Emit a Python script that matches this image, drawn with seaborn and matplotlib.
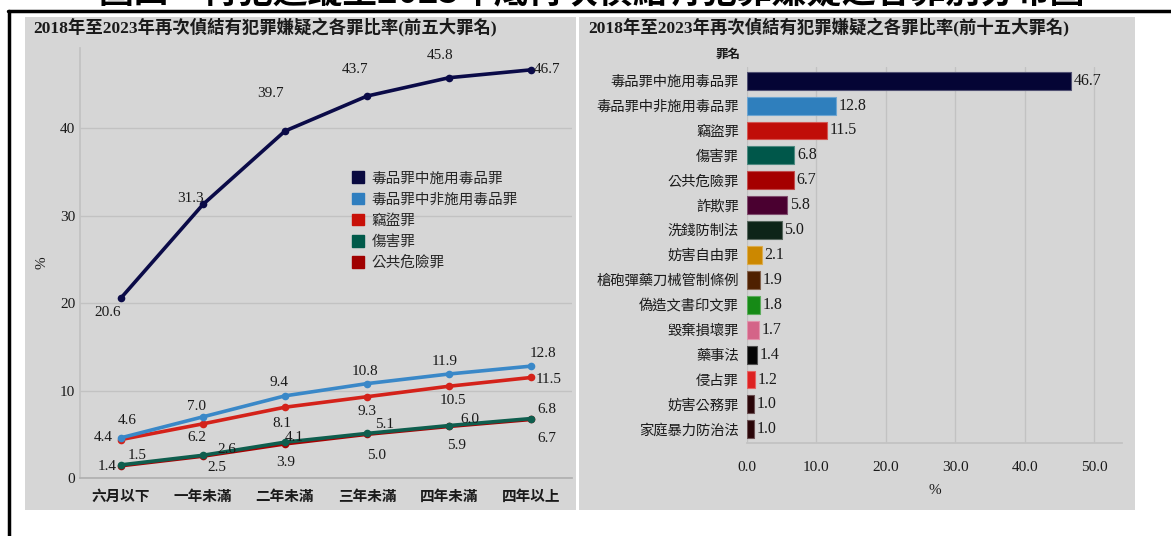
import matplotlib
matplotlib.use('Agg')
import matplotlib.pyplot as plt
import seaborn as sns
import pandas as pd
from matplotlib.lines import Line2D
from matplotlib.patches import Rectangle, Patch
from matplotlib.colors import to_rgb

# ---------------- data ----------------
periods = ['六月以下', '一年未滿', '二年未滿', '三年未滿', '四年未滿', '四年以上']
top5_names = ['毒品罪中施用毒品罪', '毒品罪中非施用毒品罪', '竊盜罪', '傷害罪', '公共危險罪']
drug_use = [20.6, 31.3, 39.7, 43.7, 45.8, 46.7]
drug_other = [4.6, 7.0, 9.4, 10.8, 11.9, 12.8]
theft = [4.4, 6.2, 8.1, 9.3, 10.5, 11.5]
injury = [1.5, 2.6, 4.1, 5.1, 6.0, 6.8]
public_danger = [1.4, 2.5, 3.9, 5.0, 5.9, 6.7]

crime_names = ['毒品罪中施用毒品罪', '毒品罪中非施用毒品罪', '竊盜罪', '傷害罪', '公共危險罪',
               '詐欺罪', '洗錢防制法', '妨害自由罪', '槍砲彈藥刀械管制條例', '偽造文書印文罪',
               '毀棄損壞罪', '藥事法', '侵占罪', '妨害公務罪', '家庭暴力防治法']
crime_rates = [46.7, 12.8, 11.5, 6.8, 6.7, 5.8, 5.0, 2.1, 1.9, 1.8, 1.7, 1.4, 1.2, 1.0, 1.0]

title_main = '圖四　再犯追蹤至2023年底再次偵結有犯罪嫌疑之各罪別分布圖'
title_left = '2018年至2023年再次偵結有犯罪嫌疑之各罪比率(前五大罪名)'
title_right = '2018年至2023年再次偵結有犯罪嫌疑之各罪比率(前十五大罪名)'

# ---------------- styles ----------------
line_colors = ['#0b0b48', '#3a88c8', '#d4221a', '#0f5e4e', '#a60000']
legend_colors = ['#0a0a40', '#2f7ebf', '#c81008', '#005a4a', '#a00000']
bar_colors = ['#050535', '#2f7fbd', '#c00d08', '#00574a', '#a50000', '#4a0030', '#0d2418',
              '#cc8800', '#4f2000', '#168a16', '#d46488', '#050505', '#dd2222', '#2a0508', '#2a0508']
# label offsets (pixels) per series, per point
label_offsets = [
    [(-13, -15), (-13, 6), (-15, 38), (-12, 27), (-9, 22), (16, 0)],
    [(6, 17), (-6, 10), (-6, 13), (-2, 12), (-4, 12), (12, 13)],
    [(-18, 2), (-6, -14), (-3, -16), (0, -15), (4, -14), (18, -2)],
    [(16, 9), (24, 6), (9, 5), (18, 9), (21, 6), (16, 9)],
    [(-14, -1), (14, -11), (1, -19), (10, -21), (8, -19), (16, -19)],
]
PANEL = '#d6d6d6'
GRID = '#c2c2c2'
TXT = '#1a1a1a'

sns.set_theme(style='white')
plt.rcParams['font.family'] = ['Liberation Serif', 'Noto Sans CJK TC']
plt.rcParams['axes.unicode_minus'] = False

W, H = 1171, 536
fig = plt.figure(figsize=(W / 100, H / 100), dpi=100)
fig.patch.set_facecolor('white')


def fx(px):
    return px / W


def fy(py):
    return 1 - py / H


# background panels
fig.add_artist(Rectangle((fx(25), fy(510)), fx(576) - fx(25), fy(17) - fy(510),
                         transform=fig.transFigure, facecolor=PANEL, edgecolor='none', zorder=-5))
fig.add_artist(Rectangle((fx(579), fy(510)), fx(1135) - fx(579), fy(17) - fy(510),
                         transform=fig.transFigure, facecolor=PANEL, edgecolor='none', zorder=-5))
# frame lines
fig.add_artist(Line2D([fx(8), 1.0], [fy(11), fy(11)], color='black', lw=2.5,
                      transform=fig.transFigure))
fig.add_artist(Line2D([fx(9), fx(9)], [fy(11), 0.0], color='black', lw=2.5,
                      transform=fig.transFigure))
# clipped main title (only its lower edge is visible, as in the source)
fig.text(fx(592), fy(2), title_main, fontsize=25, fontweight='bold', ha='center',
         va='baseline', color='black', family=['Noto Sans CJK TC'])
# panel titles
fig.text(fx(33), fy(28), title_left, fontsize=12.5, fontweight='bold', ha='left', va='center', color=TXT)
fig.text(fx(588), fy(28), title_right, fontsize=12.5, fontweight='bold', ha='left', va='center', color=TXT)

# ---------------- left: line chart ----------------
ax1 = fig.add_axes([fx(80), fy(478), (572 - 80) / W, (478 - 48) / H])
ax1.set_facecolor(PANEL)
series = [drug_use, drug_other, theft, injury, public_danger]
pos = list(range(len(periods)))
for k in reversed(range(len(series))):
    df = pd.DataFrame({'pos': pos, 'value': series[k]})
    sns.lineplot(data=df, x='pos', y='value', color=line_colors[k], marker='o',
                 markersize=5.5, markeredgewidth=0, linewidth=2.6, ax=ax1, zorder=3 + (5 - k))
for k, vals in enumerate(series):
    for i, v in enumerate(vals):
        dx, dy = label_offsets[k][i]
        ax1.annotate(f'{v:.1f}', (pos[i], v), xytext=(dx, dy), textcoords='offset pixels',
                     ha='center', va='center', fontsize=11, color=TXT, zorder=10)

ax1.set_xlim(-0.5, 5.5)
ax1.set_ylim(0, 49.2)
ax1.set_yticks([0, 10, 20, 30, 40])
ax1.set_yticklabels(['0', '10', '20', '30', '40'], fontsize=11, color=TXT)
ax1.set_xticks(pos)
ax1.set_xticklabels(periods, fontsize=10.5, fontweight='bold', color=TXT)
ax1.set_xticks([p - 0.5 for p in range(len(periods) + 1)], minor=True)
ax1.tick_params(axis='x', which='major', length=0, pad=9)
ax1.tick_params(axis='x', which='minor', length=5, color='#b0b0b0', width=0.8)
ax1.tick_params(axis='y', length=0, pad=3.5)
ax1.grid(axis='y', color=GRID, lw=1)
ax1.grid(axis='x', visible=False)
ax1.set_axisbelow(True)
for s in ['top', 'right']:
    ax1.spines[s].set_visible(False)
ax1.spines['left'].set_color(GRID)
ax1.spines['bottom'].set_color('#b0b0b0')
ax1.set_xlabel('')
ax1.set_ylabel('%', fontsize=11, color=TXT)
ax1.yaxis.set_label_coords(-0.065, 0.5)

handles = [Patch(facecolor=c, edgecolor=c) for c in legend_colors]
ax1.legend(handles, top5_names, loc='upper left', bbox_to_anchor=(0.553, 0.713), frameon=False,
           handlelength=0.85, handleheight=0.85, handletextpad=0.5, labelspacing=0.5,
           fontsize=10.5, borderaxespad=0, borderpad=0)

# ---------------- right: bar chart ----------------
ax2 = fig.add_axes([fx(747), fy(443), 375 / W, 376 / H])
ax2.set_facecolor(PANEL)
bdf = pd.DataFrame({'name': crime_names, 'rate': crime_rates})
sns.barplot(data=bdf, x='rate', y='name', hue='name', palette=bar_colors, legend=False,
            width=0.72, saturation=1, orient='h', ax=ax2, zorder=3)
for p in ax2.patches:
    r, g, b = to_rgb(p.get_facecolor()[:3])
    p.set_edgecolor((r + (1 - r) * 0.3, g + (1 - g) * 0.3, b + (1 - b) * 0.3))
    p.set_linewidth(0.8)
for cont in ax2.containers:
    ax2.bar_label(cont, fmt='%.1f', padding=2, fontsize=11.5, color=TXT)

ax2.set_xlim(0, 54)
ax2.set_ylim(14.55, -0.55)
ax2.set_xticks([0, 10, 20, 30, 40, 50])
ax2.set_xticklabels([f'{t:.1f}' for t in [0, 10, 20, 30, 40, 50]], fontsize=11, color=TXT)
ax2.tick_params(axis='x', length=5, color=GRID, pad=8)
ax2.tick_params(axis='y', length=0, pad=6, labelsize=10.3, labelcolor=TXT)
ax2.grid(axis='x', color=GRID, lw=1)
ax2.grid(axis='y', visible=False)
ax2.set_axisbelow(True)
for s in ['top', 'right', 'left']:
    ax2.spines[s].set_visible(False)
ax2.spines['bottom'].set_color(GRID)
ax2.set_xlabel('%', fontsize=11, color=TXT)
ax2.xaxis.set_label_coords(0.5, -0.11)
ax2.set_ylabel('罪名', rotation=0, fontsize=9, color=TXT, fontweight='bold', va='center', ha='center')
ax2.yaxis.set_label_coords(-0.05, 1.032)

fig.savefig('out.png', dpi=100)
